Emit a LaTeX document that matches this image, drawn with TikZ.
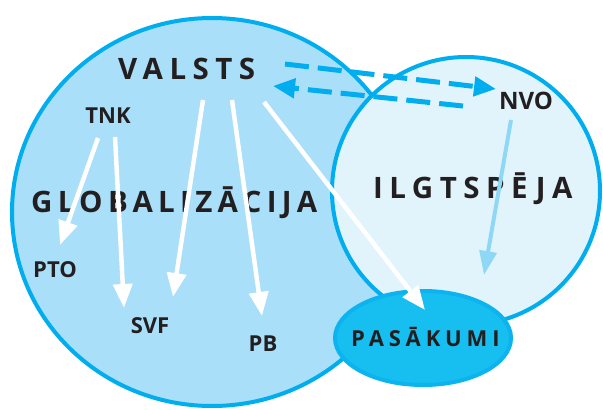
\documentclass[tikz,border=0pt]{standalone}
\usepackage{fontspec}
\setmainfont{Open Sans}
\newfontfamily\spacedfont[LetterSpace=22]{Open Sans}
\newfontfamily\globfont[LetterSpace=18]{Open Sans}
\usetikzlibrary{arrows.meta,calc}
\definecolor{ringblue}{HTML}{00AEEF}
\definecolor{globfill}{HTML}{A9DFF9}
\definecolor{ilgtfill}{HTML}{E1F4FC}
\definecolor{pasfill}{HTML}{17BEF0}
\definecolor{pasring}{HTML}{0BB4EE}
\definecolor{nvoblue}{HTML}{8ED8F6}
\definecolor{ink}{HTML}{231F20}
\tikzset{
  bigword/.style={inner sep=0pt, anchor=base west, text=ink,
    font=\spacedfont\bfseries\fontsize{29.5}{30}\selectfont},
  smallword/.style={inner sep=0pt, anchor=base, text=ink,
    font=\bfseries\fontsize{22}{24}\selectfont},
  whitearrow/.style={white, line width=4.5pt, -{Triangle[length=24pt,width=19pt]}},
  dasharrow/.style={ringblue, line width=5pt, dash pattern=on 24pt off 9pt,
    -{Triangle[length=22pt,width=19pt]}},
}
\begin{document}
\begin{tikzpicture}[x=1pt,y=-1pt]
  \useasboundingbox (0,0) rectangle (603,410);
  % circles
  \draw[ringblue, line width=4pt, fill=globfill] (212,212) ellipse [x radius=200pt, y radius=194pt];
  \draw[ringblue, line width=4pt, fill=ilgtfill] (466,191) ellipse [x radius=134pt, y radius=134pt];
  \draw[pasring, line width=4pt, fill=pasfill] (423,338) ellipse [x radius=88pt, y radius=47pt];
  % words
  \node[bigword] (valsts) at (118,79) {VALSTS};
  \node[bigword, font=\globfont\bfseries\fontsize{29.5}{30}\selectfont] (glob) at (31,212) {GLOBALIZĀCIJA};
  \node[bigword] (ilgt) at (373,198) {ILGTSPĒJA};
  \node[bigword, font=\spacedfont\bfseries\fontsize{22}{24}\selectfont] (pasakumi) at (351,346) {PASĀKUMI};
  \node[smallword] (tnk) at (108,123) {TNK};
  \node[smallword, font=\bfseries\fontsize{24}{26}\selectfont] (nvo) at (526,109) {NVO};
  \node[smallword] (pto) at (55,277) {PTO};
  \node[smallword] (svf) at (150,333) {SVF};
  \node[smallword] (pb) at (263,351) {PB};
  % arrows
  \draw[whitearrow] ($(tnk.base)+(-10,15)$) -- ($(pto.base)+(5,-32)$);
  \draw[whitearrow] ($(tnk.base)+(7,14)$) -- ($(svf.base)+(-26,-25)$);
  \draw[whitearrow] ($(valsts.base west)+(85,21)$) -- ($(svf.base)+(23,-36)$);
  \draw[whitearrow] ($(valsts.base west)+(114,21)$) -- ($(pb.base)+(-1,-35)$);
  \draw[whitearrow] ($(valsts.base west)+(146,23)$) -- ($(pasakumi.base west)+(74,-36)$);
  \draw[nvoblue, line width=4pt, -{Triangle[length=24pt,width=17pt]}]
    ($(nvo.base)+(-15,11)$) -- ($(pasakumi.base west)+(133,-71)$);
  \draw[dasharrow] ($(valsts.base west)+(167,-15)$) -- ($(nvo.base)+(-30,-20)$);
  \draw[dasharrow] ($(nvo.base)+(-63,-3)$) -- ($(valsts.base west)+(155,7)$);
\end{tikzpicture}
\end{document}
